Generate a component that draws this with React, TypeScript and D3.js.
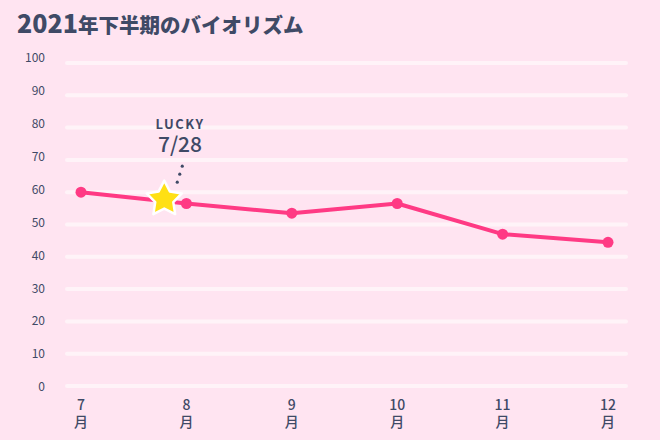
import React from "react";
import * as d3 from "d3";

const months = ["7", "8", "9", "10", "11", "12"];
const values = [60, 56.5, 53.5, 56.5, 47, 44.5];
const yTicks = [0, 10, 20, 30, 40, 50, 60, 70, 80, 90, 100];
const luckyLabel = "LUCKY";
const luckyDate = "7/28";
const luckyPos = 0.79; // fraction between 7月 and 8月

const W = 660, H = 440;
const TEXT = "#3f4a66";
const PINK = "#ff3a84";
const BG = "#ffe4f1";
const FONT = "'Noto Sans CJK JP', 'Noto Sans', sans-serif";

function starPath(cx: number, cy: number, R: number, r: number) {
  const pts: [number, number][] = [];
  for (let i = 0; i < 10; i++) {
    const a = -Math.PI / 2 + (i * Math.PI) / 5;
    const rad = i % 2 === 0 ? R : r;
    pts.push([cx + rad * Math.cos(a), cy + rad * Math.sin(a)]);
  }
  return d3.line().curve(d3.curveLinearClosed)(pts) as string;
}

export default function App() {
  const x = d3.scaleLinear().domain([0, months.length - 1]).range([81, 608]);
  const y = d3.scaleLinear().domain([0, 100]).range([386, 63]);
  const yLab = d3.scaleLinear().domain([0, 100]).range([387, 58]);
  const line = d3.line<number>().x((_, i) => x(i)).y((d) => y(d));
  const sx = x(luckyPos);
  const sy = y(values[0] + (values[1] - values[0]) * luckyPos) - 2;
  return (
    <svg width={W} height={H} style={{ position: "fixed", left: 0, top: 0, background: BG }}>
      <rect x={0} y={0} width={W} height={H} fill={BG} />
      <text x={17} y={33} fill={TEXT} fontFamily={FONT} fontWeight={800}>
        <tspan fontSize={25}>2021</tspan>
        <tspan fontSize={20.5}>年下半期のバイオリズム</tspan>
      </text>
      {yTicks.map((t) => (
        <g key={t}>
          <line x1={67} x2={626} y1={y(t)} y2={y(t)} stroke="#fff3f8" strokeWidth={4} strokeLinecap="round" />
          <text x={45} y={yLab(t)} dy="0.35em" textAnchor="end" fontSize={12} fill={TEXT} fontFamily={FONT}>{t}</text>
        </g>
      ))}
      {months.map((m, i) => (
        <text key={m} x={x(i)} textAnchor="middle" fontSize={14} fill={TEXT} fontFamily={FONT} fontWeight={500}>
          <tspan x={x(i)} y={410}>{m}</tspan>
          <tspan x={x(i)} y={427}>月</tspan>
        </text>
      ))}
      <path d={line(values) as string} fill="none" stroke={PINK} strokeWidth={4} strokeLinejoin="round" />
      {values.map((v, i) => (
        <circle key={i} cx={x(i)} cy={y(v)} r={5.5} fill={PINK} />
      ))}
      <path d={starPath(sx, sy, 18.5, 9.5)} fill="#ffe014" stroke="#ffffff" strokeWidth={2.5} strokeLinejoin="round" />
      {[0, 1, 2].map((k) => (
        <circle key={k} cx={sx + 13 + k * 2.5} cy={sy - 17 - k * 8} r={1.6} fill={TEXT} />
      ))}
      <text x={180} y={124} dy="0.35em" textAnchor="middle" fontSize={13} fontWeight={700} letterSpacing={1.5} fill={TEXT} fontFamily={FONT}>{luckyLabel}</text>
      <text x={180} y={145} dy="0.35em" textAnchor="middle" fontSize={21} fontWeight={500} fill={TEXT} fontFamily={FONT}>{luckyDate}</text>
    </svg>
  );
}
